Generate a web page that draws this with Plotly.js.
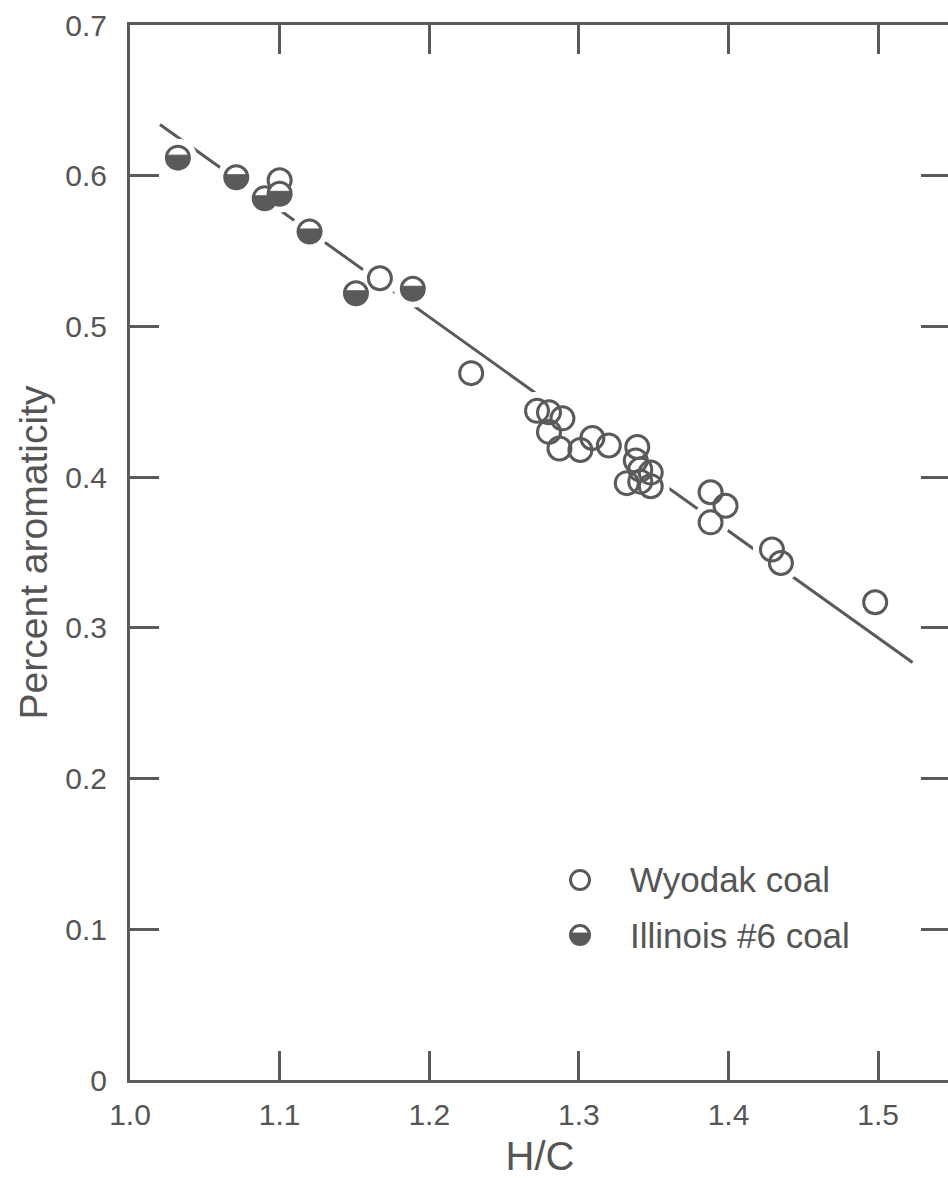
<!DOCTYPE html>
<html>
<head>
<meta charset="utf-8">
<script src="https://cdn.plot.ly/plotly-3.0.1.min.js"></script>
<style>
  html, body { margin: 0; padding: 0; background: #fff; overflow: hidden; }
  #chart { width: 960px; height: 1178px; }
</style>
</head>
<body>
<div id="chart"></div>
<script>
// values
const wyodakHC = [1.100, 1.167, 1.228, 1.272, 1.280, 1.289, 1.280, 1.287, 1.301, 1.309, 1.320,
  1.339, 1.338, 1.341, 1.348, 1.332, 1.341, 1.348, 1.388, 1.398, 1.388, 1.429, 1.435, 1.498];
const wyodakArom = [0.597, 0.532, 0.469, 0.444, 0.443, 0.439, 0.430, 0.419, 0.418, 0.426, 0.421,
  0.420, 0.411, 0.405, 0.403, 0.396, 0.397, 0.394, 0.390, 0.381, 0.370, 0.352, 0.343, 0.317];

const illinoisHC = [1.032, 1.071, 1.090, 1.100, 1.120, 1.151, 1.189];
const illinoisArom = [0.612, 0.599, 0.585, 0.588, 0.563, 0.522, 0.525];

// hand-drawn fit line, end points
const fitHC = [1.020, 1.523];
const fitArom = [0.634, 0.277];

const xTicks = [1.0, 1.1, 1.2, 1.3, 1.4, 1.5];
const xTickText = ["1.0", "1.1", "1.2", "1.3", "1.4", "1.5"];
const yTicks = [0, 0.1, 0.2, 0.3, 0.4, 0.5, 0.6, 0.7];
const yTickText = ["0", "0.1", "0.2", "0.3", "0.4", "0.5", "0.6", "0.7"];

const ink = "#5a5a5a";
const textInk = "#555";
const font = "Liberation Sans, Arial, sans-serif";

// shape paths can't use arcs, so the filled lower part of a circle is a polygon.
// pixels around the anchor point, y pointing up; chord sits a bit above centre
function lowerFillPath(r, chord) {
  const a = Math.asin(chord / r);
  const start = Math.PI - a;
  const end = 2 * Math.PI + a;
  const pts = [];
  for (let i = 0; i <= 32; i++) {
    const t = start + ((end - start) * i) / 32;
    pts.push((r * Math.cos(t)).toFixed(2) + "," + (r * Math.sin(t)).toFixed(2));
  }
  return "M" + pts.join(" L") + " Z";
}

function halfShape(x, y, xref, yref, r, chord) {
  return {
    type: "path",
    xref: xref,
    yref: yref,
    xsizemode: "pixel",
    ysizemode: "pixel",
    xanchor: x,
    yanchor: y,
    path: lowerFillPath(r, chord),
    fillcolor: ink,
    line: { color: ink, width: 1 },
    layer: "above",
  };
}

function legendShapes() {
  const ring = {
    type: "circle", xref: "paper", yref: "paper", xsizemode: "pixel", ysizemode: "pixel",
    xanchor: 0.5488, x0: -9.5, x1: 9.5, y0: -9.5, y1: 9.5,
    line: { color: ink, width: 3 }, fillcolor: "#fff",
  };
  return [
    Object.assign({}, ring, { yanchor: 0.1896 }),
    Object.assign({}, ring, { yanchor: 0.1374 }),
    halfShape(0.5488, 0.1374, "paper", "paper", 9, 2),
  ];
}

function renderChart() {
  const allHC = wyodakHC.concat(illinoisHC);
  const allArom = wyodakArom.concat(illinoisArom);

  const traces = [
    {
      x: fitHC, y: fitArom, mode: "lines", hoverinfo: "skip",
      line: { color: ink, width: 3 },
    },
    {
      // white halo so the line breaks around the points
      x: allHC, y: allArom, mode: "markers", hoverinfo: "skip",
      marker: { symbol: "circle", size: 38, color: "#fff", line: { width: 0 } },
    },
    {
      name: "Wyodak coal", x: wyodakHC, y: wyodakArom, mode: "markers",
      marker: { symbol: "circle-open", size: 23, color: ink, line: { color: ink, width: 3 } },
    },
    {
      name: "Illinois #6 coal", x: illinoisHC, y: illinoisArom, mode: "markers",
      marker: { symbol: "circle", size: 23, color: "#fff", line: { color: ink, width: 3 } },
    },
  ];

  const axisCommon = {
    showgrid: false,
    zeroline: false,
    showline: true,
    linecolor: ink,
    linewidth: 3,
    mirror: "allticks",
    ticks: "inside",
    ticklen: 29,
    tickwidth: 3,
    tickcolor: ink,
    tickfont: { family: font, size: 30, color: textInk },
  };

  const layout = {
    width: 960,
    height: 1178,
    margin: { l: 130, r: 10, t: 25, b: 98 },
    paper_bgcolor: "#fff",
    plot_bgcolor: "#fff",
    showlegend: false,
    xaxis: Object.assign({}, axisCommon, {
      range: [1.0, 1.548],
      tickmode: "array",
      tickvals: xTicks,
      ticktext: xTickText,
      ticklabelstandoff: 6,
      title: { text: "H/C", font: { family: font, size: 40, color: textInk }, standoff: 12 },
    }),
    yaxis: Object.assign({}, axisCommon, {
      range: [0, 0.7],
      tickmode: "array",
      tickvals: yTicks,
      ticktext: yTickText,
      ticklabelstandoff: 14,
      title: { text: "Percent aromaticity", font: { family: font, size: 39, color: textInk }, standoff: 6 },
    }),
    shapes: illinoisHC
      .map((x, i) => halfShape(x, illinoisArom[i], "x", "y", 10.5, 2.5))
      .concat(legendShapes()),
    annotations: [
      {
        xref: "paper", yref: "paper", x: 0.6073, y: 0.1896, xanchor: "left", yanchor: "middle",
        text: "Wyodak coal", showarrow: false, font: { family: font, size: 35, color: textInk },
      },
      {
        xref: "paper", yref: "paper", x: 0.6073, y: 0.1374, xanchor: "left", yanchor: "middle",
        text: "Illinois #6 coal", showarrow: false, font: { family: font, size: 35, color: textInk },
      },
    ],
  };

  Plotly.newPlot("chart", traces, layout, { staticPlot: true });
}

renderChart();
</script>
</body>
</html>
